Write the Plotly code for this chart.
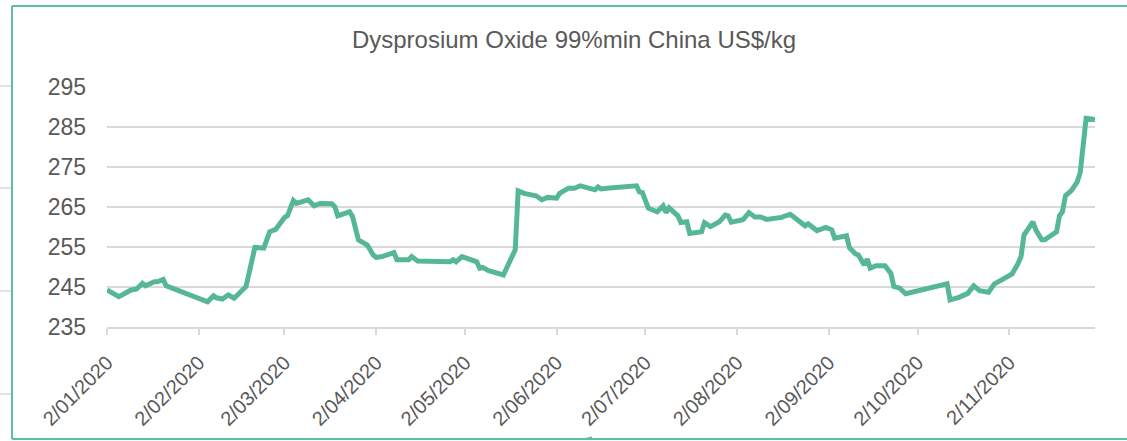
import plotly.graph_objects as go

# Dysprosium oxide 99%min, China, US$/kg
dates = [
    "2020-01-02", "2020-01-06", "2020-01-10", "2020-01-12", "2020-01-14", "2020-01-15",
    "2020-01-18", "2020-01-19", "2020-01-21", "2020-01-22",
    "2020-02-05", "2020-02-07", "2020-02-08", "2020-02-10", "2020-02-12", "2020-02-14",
    "2020-02-18", "2020-02-19", "2020-02-21", "2020-02-24", "2020-02-26", "2020-02-28",
    "2020-03-02", "2020-03-03", "2020-03-05", "2020-03-06", "2020-03-10", "2020-03-12",
    "2020-03-14", "2020-03-18", "2020-03-19", "2020-03-20", "2020-03-24", "2020-03-25",
    "2020-03-27", "2020-03-30", "2020-04-01", "2020-04-02", "2020-04-04", "2020-04-08",
    "2020-04-09", "2020-04-13", "2020-04-14", "2020-04-16", "2020-04-20", "2020-04-21",
    "2020-04-27", "2020-04-28", "2020-04-29", "2020-05-01", "2020-05-06", "2020-05-07",
    "2020-05-08", "2020-05-10", "2020-05-15", "2020-05-19", "2020-05-20", "2020-05-22",
    "2020-05-26", "2020-05-28", "2020-05-30", "2020-06-02", "2020-06-03", "2020-06-06",
    "2020-06-08", "2020-06-10", "2020-06-15", "2020-06-16", "2020-06-17", "2020-06-19",
    "2020-06-23", "2020-06-25", "2020-06-29", "2020-06-30", "2020-07-01", "2020-07-03",
    "2020-07-06", "2020-07-08", "2020-07-09", "2020-07-10", "2020-07-13", "2020-07-14",
    "2020-07-16", "2020-07-17", "2020-07-21", "2020-07-22", "2020-07-24", "2020-07-27",
    "2020-07-29", "2020-07-30", "2020-07-31", "2020-08-04", "2020-08-06", "2020-08-08",
    "2020-08-10", "2020-08-12", "2020-08-17", "2020-08-20", "2020-08-25", "2020-08-26",
    "2020-08-29", "2020-09-01", "2020-09-03", "2020-09-04", "2020-09-08", "2020-09-09",
    "2020-09-11", "2020-09-12", "2020-09-14", "2020-09-15", "2020-09-16", "2020-09-18",
    "2020-09-21", "2020-09-23", "2020-09-24", "2020-09-26", "2020-09-28",
    "2020-10-12", "2020-10-13", "2020-10-16", "2020-10-19", "2020-10-21", "2020-10-23",
    "2020-10-26", "2020-10-28", "2020-10-30", "2020-11-03", "2020-11-05", "2020-11-06",
    "2020-11-07", "2020-11-10", "2020-11-11", "2020-11-13", "2020-11-14", "2020-11-18",
    "2020-11-19", "2020-11-20", "2020-11-21", "2020-11-23", "2020-11-25", "2020-11-26",
    "2020-11-28", "2020-12-01",
]
prices = [
    244.3, 242.6, 244.2, 244.5, 245.9, 245.3,
    246.3, 246.3, 246.9, 245.3,
    241.3, 242.8, 242.3, 242.0, 243.0, 242.2,
    245.1, 248.4, 254.9, 254.7, 258.8, 259.4,
    262.4, 262.8, 266.6, 265.9, 266.8, 265.3,
    265.9, 265.8, 265.1, 262.8, 263.8, 262.6,
    256.8, 255.5, 253.0, 252.4, 252.6, 253.6,
    251.8, 251.8, 252.6, 251.5, 251.5, 251.3,
    251.3, 251.8, 251.3, 252.6, 251.3, 249.7,
    249.9, 249.1, 248.0, 254.3, 269.0, 268.4,
    267.8, 266.8, 267.4, 267.2, 268.4, 269.7,
    269.7, 270.3, 269.3, 270.0, 269.5, 269.7,
    269.9, 270.3, 270.3, 268.8, 268.6, 264.7,
    263.8, 265.3, 263.6, 264.8, 262.8, 261.1,
    261.3, 258.4, 258.8, 261.1, 260.1, 261.3,
    263.0, 262.8, 261.2, 261.8, 263.6, 262.5,
    262.5, 261.9, 262.4, 263.2, 260.3, 260.8,
    259.1, 259.9, 259.3, 257.2, 257.8, 254.8,
    253.3, 253.0, 250.5, 252.0, 249.7, 250.3,
    250.3, 248.4, 245.1, 244.7, 243.3,
    245.8, 241.8, 242.4, 243.4, 245.3, 244.1,
    243.7, 245.8, 246.6, 248.3, 250.9, 252.6,
    258.0, 261.3, 259.3, 256.8, 256.8, 258.8,
    262.8, 263.8, 267.8, 269.1, 271.3, 273.6,
    287.2, 286.9,
]

tick_dates = ["2020-%02d-02" % m for m in range(1, 12)]
tick_text = ["2/%02d/2020" % m for m in range(1, 12)]
y_ticks = [235, 245, 255, 265, 275, 285, 295]

GREEN = "#55b795"
FRAME = "#5cc19b"
GREY_TXT = "#595959"
GRID = "#d9d9d9"
W, H = 1127, 441
L, R, T, B = 107, 1095, 87, 327


def px(x):
    return (x - L) / (R - L)


def py(y):
    return (B - y) / (B - T)


fig = go.Figure()
fig.add_trace(go.Scatter(
    x=dates, y=prices, mode="lines",
    line=dict(color=GREEN, width=5),
    hoverinfo="x+y", showlegend=False,
))

shapes = []
# outer green frame: left, top and bottom edges (right edge is off the page)
for x0, y0, x1, y1 in [(12, 6, 12, 439), (12, 6, W + 20, 6), (12, 439, W + 20, 439)]:
    shapes.append(dict(type="line", xref="paper", yref="paper",
                       x0=px(x0), y0=py(y0), x1=px(x1), y1=py(y1),
                       line=dict(color=FRAME, width=2), layer="below"))
# grey rules peeking out left of the frame
for yy in [86, 188, 291, 394]:
    shapes.append(dict(type="line", xref="paper", yref="paper",
                       x0=px(0), x1=px(11), y0=py(yy), y1=py(yy),
                       line=dict(color=GRID, width=1.5), layer="below"))
# small wedge on the bottom frame
shapes.append(dict(type="path", xref="paper", yref="paper",
                   path="M %f %f L %f %f L %f %f Z" % (px(580), py(439), px(592), py(436.5), px(592), py(439)),
                   fillcolor=FRAME, line=dict(width=0)))

fig.update_layout(
    width=W, height=H,
    margin=dict(l=L, r=W - R, t=T, b=H - B, pad=0),
    paper_bgcolor="white", plot_bgcolor="white",
    font=dict(family="Liberation Sans, Arial, sans-serif", color=GREY_TXT, size=21),
    title=dict(text="Dysprosium Oxide 99%min China US$/kg",
               x=574 / W, xanchor="center", xref="container",
               y=1 - 40 / H, yanchor="middle", yref="container",
               font=dict(size=24, color=GREY_TXT)),
    shapes=shapes,
    xaxis=dict(
        type="date", range=["2020-01-02", "2020-12-01"],
        tickmode="array", tickvals=tick_dates, ticktext=tick_text,
        tickangle=-45, ticks="outside", ticklen=6, tickwidth=2, tickcolor=GRID,
        ticklabelstandoff=8,
        showgrid=False, showline=True, linecolor=GRID, linewidth=2,
        zeroline=False, tickfont=dict(size=20, color=GREY_TXT),
    ),
    yaxis=dict(
        range=[235, 295], tickmode="array", tickvals=y_ticks,
        showgrid=True, gridcolor=GRID, gridwidth=2,
        zeroline=False, showline=False, ticks="",
        ticklabelstandoff=20, tickfont=dict(size=23, color=GREY_TXT),
    ),
)

# page has a default 8px body margin and may grow scrollbars; remove both
page_fix = ("document.body.style.margin='0';"
            "document.body.style.overflow='hidden';"
            "document.documentElement.style.overflow='hidden';")
fig.write_html("out.html", config={"displayModeBar": False}, post_script=page_fix)
